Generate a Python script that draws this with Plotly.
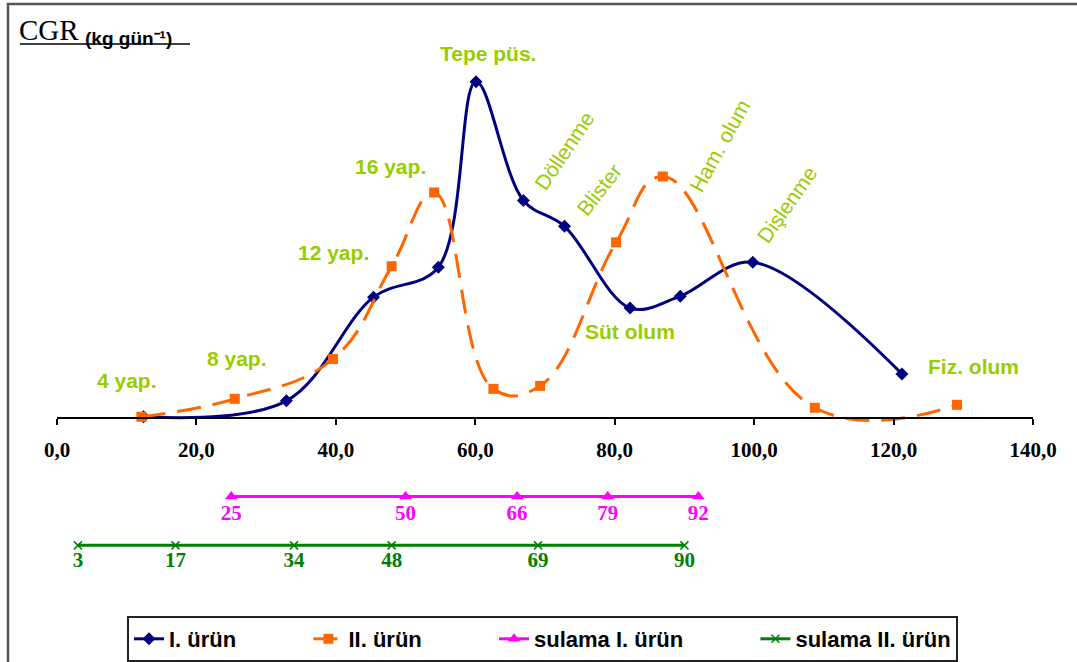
import plotly.graph_objects as go

# ---- data ----
x_urun1 = [12.4, 32.9, 45.4, 54.7, 60.1, 66.9, 72.8, 82.2, 89.4, 99.8, 121.2]
y_urun1 = [0.1, 1.7, 12.1, 15.1, 33.7, 21.8, 19.2, 11.0, 12.2, 15.6, 4.4]

x_urun2 = [12.1, 25.5, 39.6, 48.0, 54.1, 62.6, 69.3, 80.2, 86.9, 108.7, 129.1]
y_urun2 = [0.1, 1.9, 5.9, 15.2, 22.6, 2.9, 3.2, 17.6, 24.2, 1.0, 1.3]

sulama1_days = [25, 50, 66, 79, 92]
sulama1_level = -7.9
sulama2_days = [3, 17, 34, 48, 69, 90]
sulama2_level = -12.8

x_tickvals = [0, 20, 40, 60, 80, 100, 120, 140]
x_ticktext = ["0,0", "20,0", "40,0", "60,0", "80,0", "100,0", "120,0", "140,0"]

stage_labels = ["Tepe püs.", "16 yap.", "12 yap.", "8 yap.", "4 yap.", "Süt olum", "Fiz. olum"]
stage_x = [61.8, 47.9, 39.6, 25.8, 10.0, 82.2, 131.4]
stage_y = [36.5, 25.2, 16.6, 5.9, 3.7, 8.7, 5.1]

rot_labels = ["Döllenme", "Blister", "Ham. olum", "Dişlenme"]
rot_x = [72.8, 77.8, 95.1, 104.7]
rot_y = [26.8, 22.9, 27.3, 21.4]
rot_angle = [-56, -52, -61, -55]

NAVY = "#000080"
ORANGE = "#FF6600"
MAGENTA = "#FF00FF"
GREEN = "#008000"
LABEL = "#99CC00"
SERIF = "Liberation Serif"
SANS = "Liberation Sans"

pad = "\u00a0"

# plot area in pixels: x 57..1033, y 20..662
def px_x(p):
    return (p - 57) / 976

def px_y(p):
    return (662 - p) / 642

fig = go.Figure()
fig.add_trace(go.Scatter(
    x=x_urun1, y=y_urun1, mode="lines+markers", name="I. ürün" + pad * 11,
    line=dict(color=NAVY, width=3, shape="spline", smoothing=1.0),
    marker=dict(symbol="diamond", size=10, color=NAVY)))
fig.add_trace(go.Scatter(
    x=x_urun2, y=y_urun2, mode="lines+markers", name="II. ürün" + pad * 11,
    line=dict(color=ORANGE, width=3, shape="spline", smoothing=1.2, dash="24px,12px"),
    marker=dict(symbol="square", size=10, color=ORANGE)))
fig.add_trace(go.Scatter(
    x=sulama1_days, y=[sulama1_level] * len(sulama1_days), mode="lines+markers+text",
    name="sulama I. ürün" + pad * 11,
    text=[str(v) for v in sulama1_days], textposition="bottom center",
    textfont=dict(family=SERIF, size=21, color=MAGENTA, weight="bold"),
    line=dict(color=MAGENTA, width=3),
    marker=dict(symbol="triangle-up", size=11, color=MAGENTA)))
fig.add_trace(go.Scatter(
    x=sulama2_days, y=[sulama2_level] * len(sulama2_days), mode="lines+markers+text",
    name="sulama II. ürün",
    text=[str(v) for v in sulama2_days], textposition="bottom center",
    textfont=dict(family=SERIF, size=21, color=GREEN, weight="bold"),
    line=dict(color=GREEN, width=3),
    marker=dict(symbol="x-thin", size=8, color=GREEN, line=dict(color=GREEN, width=1.5))))

annotations = []
for t, x, y in zip(stage_labels, stage_x, stage_y):
    annotations.append(dict(x=x, y=y, xref="x", yref="y", text="<b>" + t + "</b>",
                            showarrow=False, font=dict(family=SANS, size=21, color=LABEL)))
for t, x, y, a in zip(rot_labels, rot_x, rot_y, rot_angle):
    annotations.append(dict(x=x, y=y, xref="x", yref="y", text=t, textangle=a,
                            showarrow=False, font=dict(family=SANS, size=21, color=LABEL)))
annotations.append(dict(
    x=px_x(17), y=px_y(30), xref="paper", yref="paper", xanchor="left", yanchor="middle",
    showarrow=False, text="CGR", font=dict(family=SERIF, size=29, color="black")))
annotations.append(dict(
    x=px_x(83), y=px_y(39), xref="paper", yref="paper", xanchor="left", yanchor="middle",
    showarrow=False, text="<b>(kg gün⁻¹)</b>",
    font=dict(family=SANS, size=19, color="black")))

fig.update_layout(
    width=1077, height=662,
    margin=dict(l=57, r=44, t=20, b=0),
    paper_bgcolor="white", plot_bgcolor="white",
    showlegend=True,
    legend=dict(orientation="h", x=px_x(127), y=px_y(618), xanchor="left", yanchor="top",
                bordercolor="#222222", borderwidth=2, bgcolor="white",
                font=dict(family=SANS, size=22, color="black", weight="bold"),
                itemclick=False),
    xaxis=dict(range=[0, 140], tickvals=x_tickvals, ticktext=x_ticktext,
               anchor="free", position=24.3 / 64.2,
               showline=True, linecolor="black", linewidth=2,
               ticks="outside", ticklen=6, tickwidth=2, tickcolor="black",
               ticklabelstandoff=7,
               tickfont=dict(family=SERIF, size=21, color="black", weight="bold"),
               showgrid=False, zeroline=False),
    yaxis=dict(range=[-24.3, 39.9], visible=False, showgrid=False, zeroline=False),
    annotations=annotations,
    shapes=[
        dict(type="rect", xref="paper", yref="paper",
             x0=px_x(8), x1=1.2, y0=-0.2, y1=px_y(4),
             line=dict(color="#555555", width=2.5), fillcolor="rgba(0,0,0,0)", layer="above"),
        dict(type="line", xref="paper", yref="paper",
             x0=px_x(20), x1=px_x(190), y0=px_y(44), y1=px_y(44),
             line=dict(color="black", width=1.5)),
    ],
)

fig.write_html("out.html")
